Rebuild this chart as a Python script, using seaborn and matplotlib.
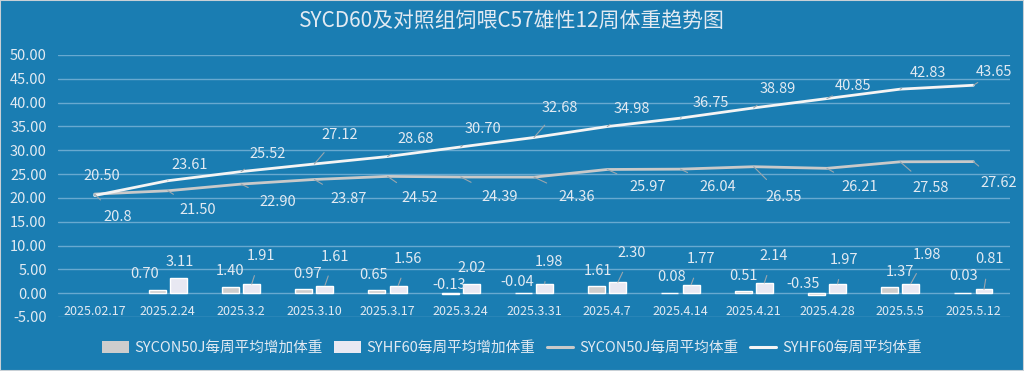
import numpy as np
import pandas as pd
import matplotlib
matplotlib.use("Agg")
import matplotlib.pyplot as plt
from matplotlib.patches import Patch
from matplotlib.lines import Line2D
import seaborn as sns

# ---------------- data ----------------
dates = ["2025.02.17", "2025.2.24", "2025.3.2", "2025.3.10", "2025.3.17", "2025.3.24",
         "2025.3.31", "2025.4.7", "2025.4.14", "2025.4.21", "2025.4.28", "2025.5.5", "2025.5.12"]
sycon_gain = [np.nan, 0.70, 1.40, 0.97, 0.65, -0.13, -0.04, 1.61, 0.08, 0.51, -0.35, 1.37, 0.03]
syhf_gain = [np.nan, 3.11, 1.91, 1.61, 1.56, 2.02, 1.98, 2.30, 1.77, 2.14, 1.97, 1.98, 0.81]
sycon_weight = [20.8, 21.50, 22.90, 23.87, 24.52, 24.39, 24.36, 25.97, 26.04, 26.55, 26.21, 27.58, 27.62]
syhf_weight = [20.50, 23.61, 25.52, 27.12, 28.68, 30.70, 32.68, 34.98, 36.75, 38.89, 40.85, 42.83, 43.65]
sycon_weight_labels = ["20.8"] + [f"{v:.2f}" for v in sycon_weight[1:]]

series_gain = ["SYCON50J每周平均增加体重", "SYHF60每周平均增加体重"]
series_weight = ["SYCON50J每周平均体重", "SYHF60每周平均体重"]
title = "SYCD60及对照组饲喂C57雄性12周体重趋势图"

# ---------------- style ----------------
BG = "#1a7db2"
GRID = "#68a9d0"
TXT = "#e2eaf2"
C_GREY_BAR = "#cdcdcd"
C_WHITE_BAR = "#e8e8f2"
C_GREY_LINE = "#c9c9c9"
C_WHITE_LINE = "#f4f4f4"
LEADER = "#9aa6ae"

sns.set_theme(style="white")
plt.rcParams["font.family"] = ["Noto Sans CJK SC", "DejaVu Sans"]

fig = plt.figure(figsize=(10.24, 3.71), dpi=100, facecolor=BG)
fig.patches.append(plt.Rectangle((0, 0), 1, 1, transform=fig.transFigure,
                                 fill=False, edgecolor="#c8d0d6", lw=1.5))
ax = fig.add_axes([58 / 1024, 1 - 317 / 371, (1010 - 58) / 1024, (317 - 55) / 371])
ax.set_facecolor(BG)

n = len(dates)
xs = np.arange(n)

# bars
gain_df = pd.DataFrame({
    "date": dates * 2,
    "value": sycon_gain + syhf_gain,
    "series": [series_gain[0]] * n + [series_gain[1]] * n,
})
sns.barplot(data=gain_df, x="date", y="value", hue="series", order=dates,
            hue_order=series_gain, palette=[C_GREY_BAR, C_WHITE_BAR],
            width=0.58, gap=0.2, saturation=1, legend=False, ax=ax, zorder=3)

# lines
w_df = pd.DataFrame({
    "x": list(xs) * 2,
    "value": sycon_weight + syhf_weight,
    "series": [series_weight[0]] * n + [series_weight[1]] * n,
})
sns.lineplot(data=w_df, x="x", y="value", hue="series", hue_order=series_weight,
             palette=[C_GREY_LINE, C_WHITE_LINE], linewidth=2.0, legend=False,
             ax=ax, zorder=4)

ax.set_xlim(-0.5, n - 0.5)
ax.set_ylim(-5, 50)
ax.set_yticks(np.arange(-5, 51, 5))
ax.set_yticklabels([f"{v:.2f}" for v in np.arange(-5, 51, 5)], color=TXT, fontsize=10.5)
ax.tick_params(axis="y", length=0, pad=8)
ax.set_xticks([])
ax.set_xlabel("")
ax.set_ylabel("")
for s in ax.spines.values():
    s.set_visible(False)
for v in np.arange(-5, 51, 5):
    ax.axhline(v, color=GRID, lw=1, zorder=1)

# x category labels just under the zero line
for i, d in enumerate(dates):
    ax.annotate(d, xy=(i, 0), xytext=(0, -18), textcoords="offset pixels",
                ha="center", va="center", color=TXT, fontsize=9)

# data labels for lines (pixel offsets)
hf_off = [(7, -20), (22, -16), (27, -18), (25, -29), (28, -18), (22, -18), (26, -30),
          (25, -18), (30, -15), (24, -19), (26, -13), (28, -16), (21, -13)]
con_off = [(23, 23), (30, 19), (37, 18), (34, 20), (32, 22), (39, 20), (43, 20),
           (40, 18), (37, 18), (30, 30), (33, 19), (30, 26), (25, 21)]

def lab(x, y, text, off, leader=True):
    ax.annotate(text, xy=(x, y), xytext=(off[0], -off[1]), textcoords="offset pixels",
                ha="center", va="center", color=TXT, fontsize=10.5, zorder=6,
                arrowprops=dict(arrowstyle="-", color=LEADER, lw=0.8,
                                shrinkA=7, shrinkB=0) if leader else None)

for i in range(n):
    lab(i, syhf_weight[i], f"{syhf_weight[i]:.2f}", hf_off[i])
    lab(i, sycon_weight[i], sycon_weight_labels[i], con_off[i])

# bar labels
dx = 0.145
grey_off = [None, (-13, -16), (0, -16), (4, -15), (-3, -15), (-1, -8), (-6, -11),
            (1, -15), (2, -16), (0, -15), (-13, -9), (10, -15), (1, -17)]
white_off = [None, (1, -16), (9, -28), (10, -29), (10, -27), (0, -16), (4, -22),
             (14, -29), (10, -26), (9, -27), (6, -24), (16, -29), (5, -30)]
for i in range(1, n):
    g = sycon_gain[i]
    ax.annotate(f"{g:.2f}", xy=(i - dx, max(g, 0)), xytext=(grey_off[i][0], -grey_off[i][1]),
                textcoords="offset pixels", ha="center", va="center", color=TXT,
                fontsize=10.5, zorder=6)
    w = syhf_gain[i]
    wo = white_off[i]
    ax.annotate(f"{w:.2f}", xy=(i + dx, w), xytext=(wo[0], -wo[1]),
                textcoords="offset pixels", ha="center", va="center", color=TXT,
                fontsize=10.5, zorder=6,
                arrowprops=dict(arrowstyle="-", color=LEADER, lw=0.8, shrinkA=7, shrinkB=0)
                if abs(wo[1]) > 20 else None)

fig.text(0.5, 1 - 21 / 371, title, ha="center", va="center", color=TXT, fontsize=15)

handles = [Patch(facecolor=C_GREY_BAR, edgecolor="none"),
           Patch(facecolor=C_WHITE_BAR, edgecolor="none"),
           Line2D([0], [0], color=C_GREY_LINE, lw=2.2),
           Line2D([0], [0], color=C_WHITE_LINE, lw=2.2)]
fig.legend(handles, series_gain + series_weight, loc="center", ncol=4,
           bbox_to_anchor=(0.5, 1 - 348 / 371), frameon=False, fontsize=10.5,
           labelcolor=TXT, handlelength=1.8, handleheight=0.8, columnspacing=0.8,
           handletextpad=0.4)

fig.savefig("out.png", dpi=100, facecolor=BG)
